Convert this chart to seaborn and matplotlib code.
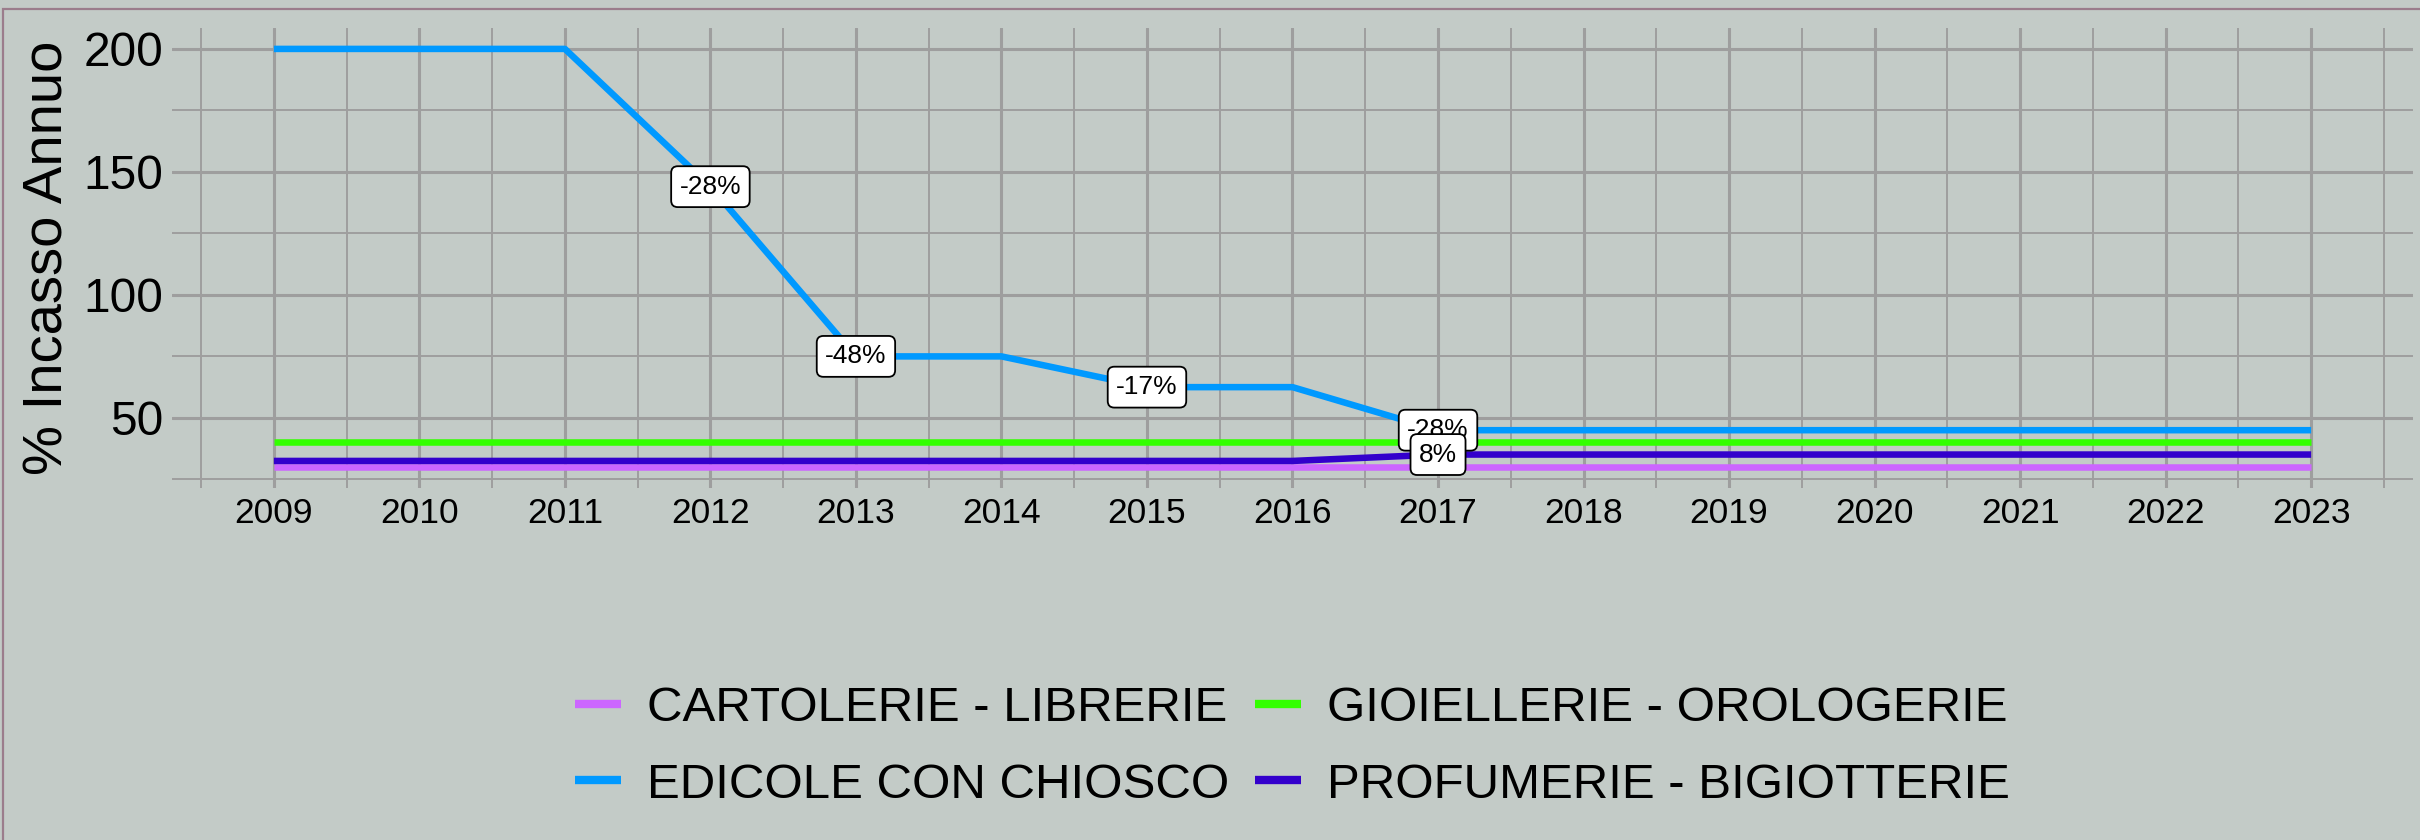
import numpy as np
import pandas as pd
import matplotlib
matplotlib.use('Agg')
import matplotlib.pyplot as plt
import seaborn as sns

# dati
anni = list(range(2009, 2024))
cartolerie = [30] * 15
edicole = [200, 200, 200, 144, 75, 75, 62.5, 62.5, 45, 45, 45, 45, 45, 45, 45]
gioiellerie = [40] * 15
profumerie = [32.5] * 8 + [35.1] * 7

categorie = ['CARTOLERIE - LIBRERIE', 'EDICOLE CON CHIOSCO',
             'GIOIELLERIE - OROLOGERIE', 'PROFUMERIE - BIGIOTTERIE']
colori = ['#CC66FF', '#0099FF', '#33FF00', '#3300CC']
serie = [cartolerie, edicole, gioiellerie, profumerie]

df = pd.concat([pd.DataFrame({'anno': anni, 'valore': v, 'categoria': c})
                for c, v in zip(categorie, serie)], ignore_index=True)

sfondo = '#C3CBC7'
griglia = '#9E9E9E'

sns.set_theme(style='white')
plt.rcParams['font.family'] = ['Liberation Sans', 'DejaVu Sans']
plt.rcParams['text.color'] = 'black'

fig = plt.figure(figsize=(24.2, 8.4), dpi=100, facecolor=sfondo)
ax = fig.add_axes([172 / 2420, 1 - 488 / 840, (2413 - 172) / 2420, 460 / 840])
ax.set_facecolor(sfondo)

sns.lineplot(data=df, x='anno', y='valore', hue='categoria', hue_order=categorie,
             palette=dict(zip(categorie, colori)), linewidth=4.7, ax=ax,
             solid_capstyle='butt', zorder=3)

# etichette con la variazione percentuale
for c, v in zip(categorie, serie):
    for i in range(1, len(v)):
        if v[i] != v[i - 1]:
            pct = round((v[i] - v[i - 1]) / v[i - 1] * 100)
            ax.text(anni[i], v[i], f"{pct}%", ha='center', va='center', fontsize=19,
                    zorder=5, color='black',
                    bbox=dict(boxstyle='round,pad=0.32,rounding_size=0.25', fc='white',
                              ec='black', lw=1.3))

ax.set_xlim(2008.3, 2023.7)
ax.set_ylim(21.5, 208.5)
ax.set_xticks(anni)
ax.set_xticks(np.arange(2008.5, 2024, 1), minor=True)
ax.set_yticks([50, 100, 150, 200])
ax.set_yticks([25, 75, 125, 175], minor=True)
ax.grid(which='major', color=griglia, lw=2.2, zorder=0)
ax.grid(which='minor', color=griglia, lw=1.4, zorder=0)
ax.set_axisbelow(True)
for s in ax.spines.values():
    s.set_visible(False)
ax.tick_params(axis='x', which='both', length=0, pad=6.5, labelsize=25.5, labelcolor='black')
ax.tick_params(axis='y', which='both', length=0, pad=6.5, labelsize=34.5, labelcolor='black')
ax.set_xlabel('')
ax.set_ylabel('% Incasso Annuo', fontsize=40.5, color='black', labelpad=6)

sns.move_legend(ax, 'center', bbox_to_anchor=(0.5, 1 - (747 - 28) / 460), ncol=2,
                frameon=False, title=None, fontsize=35.5, handlelength=0.93,
                handletextpad=0.53, columnspacing=0.53, labelspacing=0.63)
leg = ax.get_legend()
for h in leg.legend_handles:
    h.set_linewidth(6)
    h.set_solid_capstyle('butt')
for t in leg.get_texts():
    t.set_color('black')

bordo = plt.Rectangle((3 / 2420, -0.1), 1.2, 1.1 - 9 / 840, transform=fig.transFigure,
                      fill=False, ec='#9B7D8C', lw=1.6)
fig.patches.append(bordo)

fig.savefig('out.png', dpi=100, facecolor=sfondo)
